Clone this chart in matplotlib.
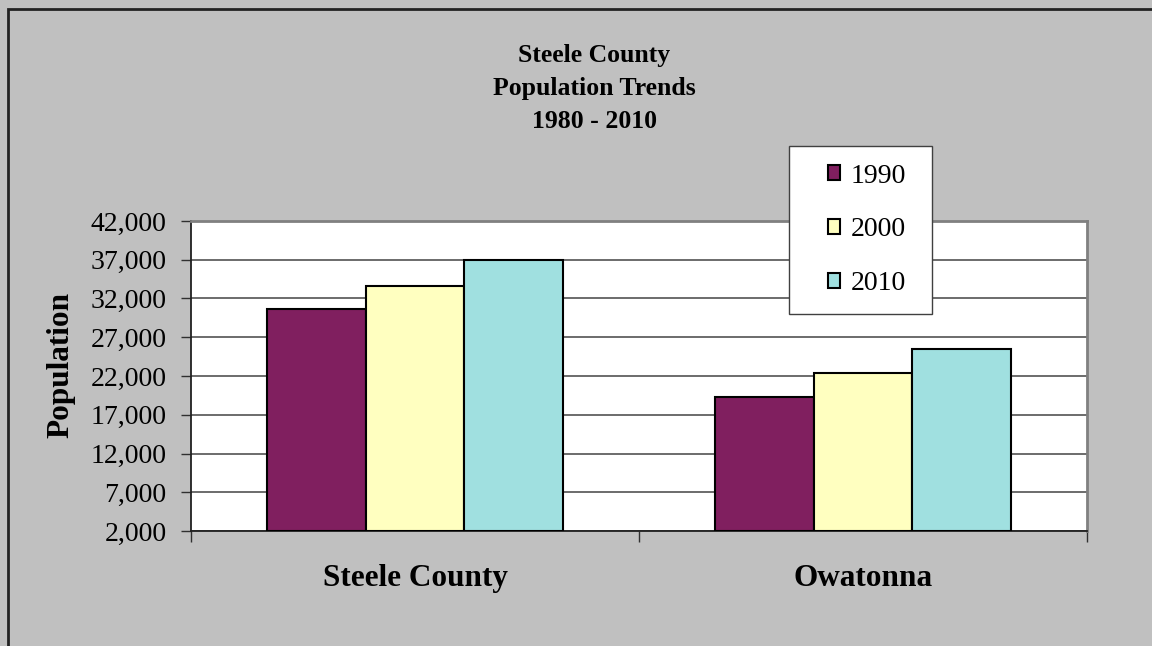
import matplotlib
matplotlib.use("Agg")
import matplotlib.pyplot as plt
import numpy as np
from matplotlib.patches import Rectangle
from matplotlib.ticker import FuncFormatter, FixedLocator
from matplotlib.transforms import blended_transform_factory

categories = ["Steele County", "Owatonna"]
years = ["1990", "2000", "2010"]
pop_1990 = [30600, 19300]
pop_2000 = [33650, 22400]
pop_2010 = [36950, 25450]
yticks = [2000, 7000, 12000, 17000, 22000, 27000, 32000, 37000, 42000]
title_lines = ["Steele County", "Population Trends", "1980 - 2010"]
colors = ["#801F5F", "#FFFFC0", "#A0E0E0"]

plt.rcParams['font.family'] = ['Liberation Serif', 'DejaVu Serif']

W, H = 1152, 646
fig = plt.figure(figsize=(W / 100, H / 100), dpi=100)
fig.patch.set_facecolor("#C0C0C0")

# outer chart frame (left/top visible)
fig.patches.append(Rectangle((8 / W, -0.2), 1.3, (H - 9) / H + 0.2, transform=fig.transFigure,
                             fill=False, edgecolor="#222222", linewidth=2, zorder=0))

ax = fig.add_axes([191 / W, (H - 531) / H, (1087 - 191) / W, (531 - 221) / H])
ax.set_facecolor("white")

x = np.arange(len(categories))
bw = 0.22
series = [pop_1990, pop_2000, pop_2010]
handles = []
for i, (yr, vals, c) in enumerate(zip(years, series, colors)):
    b = ax.bar(x + (i - 1) * bw, np.array(vals) - 2000, bottom=2000, width=bw, color=c,
               edgecolor="black", linewidth=1.5, label=yr, zorder=3)
    handles.append(b)

ax.set_xlim(-0.5, 1.5)
ax.set_ylim(2000, 42000)
ax.set_yticks(yticks)
ax.yaxis.set_major_formatter(FuncFormatter(lambda v, p: f"{int(v):,}"))
ax.grid(axis="y", color="#606060", linewidth=1.3, zorder=1)
ax.set_axisbelow(True)

ax.xaxis.set_major_locator(FixedLocator([-0.5, 0.5, 1.5]))
ax.set_xticklabels([])
ax.tick_params(axis="x", which="major", length=8, width=1, color="#303030", direction="out")
ax.tick_params(axis="y", length=7.2, width=1, color="#303030", labelsize=20, pad=10.5)

# category labels
tr = blended_transform_factory(ax.transData, fig.transFigure)
for xi, cat in zip(x, categories):
    ax.text(xi, 1 - 586 / H, cat, transform=tr, ha="center", va="baseline",
            fontsize=22.5, fontweight="bold")

for s in ["top", "right"]:
    ax.spines[s].set_color("#808080")
    ax.spines[s].set_linewidth(2)
for s in ["left", "bottom"]:
    ax.spines[s].set_color("#202020")
    ax.spines[s].set_linewidth(1.3)

fig.text(61 / W, 1 - 365 / H, "Population", rotation=90, ha="center", va="center",
         fontsize=22.5, fontweight="bold")

for line, yb in zip(title_lines, [62, 95, 128]):
    fig.text(594 / W, 1 - yb / H, line, ha="center", va="baseline",
             fontsize=18.5, fontweight="bold")

# legend box
fig.patches.append(Rectangle((789 / W, 1 - 314 / H), (932 - 789) / W, (314 - 146) / H,
                             transform=fig.transFigure, facecolor="white", edgecolor="#404040",
                             linewidth=1, zorder=5))
leg = fig.legend(handles, years, loc="center", bbox_to_anchor=(867 / W, 1 - 230 / H),
                 bbox_transform=fig.transFigure, fontsize=20, frameon=False,
                 handlelength=0.46, handleheight=0.46, labelspacing=1.04,
                 handletextpad=0.38, borderpad=0)
leg.set_zorder(6)

fig.savefig("out.png", dpi=100, facecolor=fig.get_facecolor())
